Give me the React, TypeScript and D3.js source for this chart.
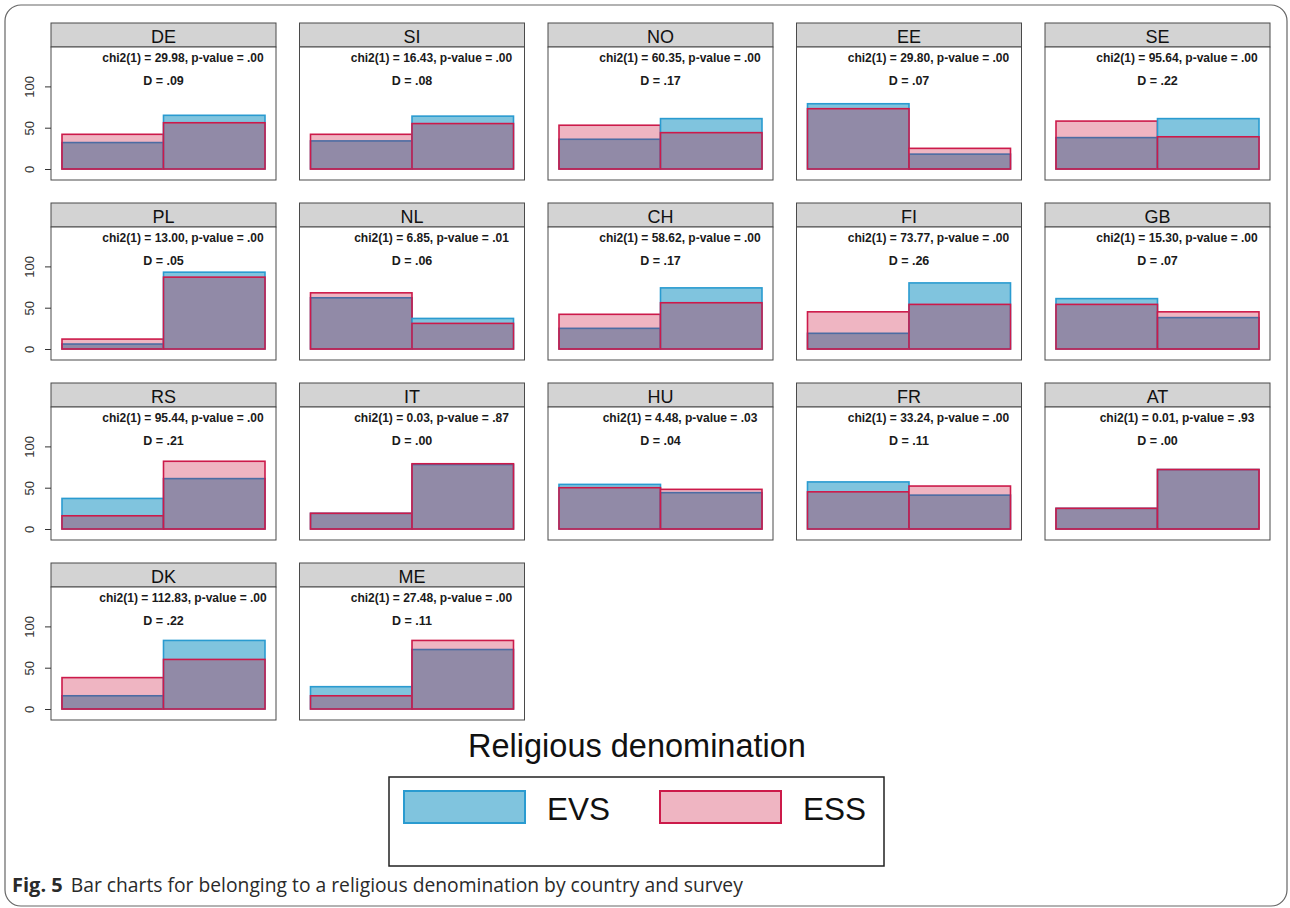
import React, { useRef, useEffect } from 'react';
import * as d3 from 'd3';

// panels, in reading order
const countries = ['DE', 'SI', 'NO', 'EE', 'SE', 'PL', 'NL', 'CH', 'FI', 'GB', 'RS', 'IT', 'HU', 'FR', 'AT', 'DK', 'ME'];
const chiSquare = ['29.98', '16.43', '60.35', '29.80', '95.64', '13.00', '6.85', '58.62', '73.77', '15.30', '95.44', '0.03', '4.48', '33.24', '0.01', '112.83', '27.48'];
const pValues = ['.00', '.00', '.00', '.00', '.00', '.00', '.01', '.00', '.00', '.00', '.00', '.87', '.03', '.00', '.93', '.00', '.00'];
const dValues = ['.09', '.08', '.17', '.07', '.22', '.05', '.06', '.17', '.26', '.07', '.21', '.00', '.04', '.11', '.00', '.22', '.11'];

// two bars per panel (no / yes), percentages
const categories = ['No', 'Yes'];
const evsNo = [32, 34, 36, 79, 38, 6, 62, 25, 19, 61, 37, 19, 54, 57, 25, 16, 27];
const evsYes = [65, 64, 61, 18, 61, 93, 37, 74, 80, 38, 61, 78, 44, 41, 72, 83, 72];
const essNo = [42, 42, 53, 73, 58, 12, 68, 42, 45, 54, 16, 19, 50, 45, 25, 38, 16];
const essYes = [56, 55, 44, 25, 39, 87, 31, 56, 54, 45, 82, 79, 48, 52, 72, 60, 83];

const yTicks = [0, 50, 100];
const surveys = ['EVS', 'ESS'];

const FONT = '"Liberation Sans", Arial, sans-serif';
const EVS_FILL = '#80c4de';
const EVS_STROKE = '#2a9bd0';
const EVS_STROKE_DARK = '#4c6ca3';
const ESS_FILL = '#efb5c2';
const ESS_STROKE = '#cc1a4a';
const BOTH_FILL = '#918aa7';

export default function App(): JSX.Element {
  const svgRef = useRef<SVGSVGElement>(null);

  useEffect(() => {
    const svgEle = svgRef.current;
    if (svgEle == null) {
      return;
    }
    const svg = d3.select(svgEle);
    svg.selectAll('*').remove();

    // outer frame
    svg
      .append('rect')
      .attr('x', 5)
      .attr('y', 5)
      .attr('width', 1282)
      .attr('height', 901)
      .attr('rx', 16)
      .attr('fill', 'none')
      .attr('stroke', '#666')
      .attr('stroke-width', 1.2);

    const panelW = 225;
    const headerH = 24;
    const plotH = 133;

    const colX = d3.scaleLinear().domain([0, 4]).range([51, 1045]);
    const rowY = d3.scaleLinear().domain([0, 3]).range([23, 563]);

    const x = d3.scaleBand().domain(categories).range([11, panelW - 11]);
    const y = d3
      .scaleLinear()
      .domain([0, 100])
      .range([plotH - 11, plotH - 11 - 82.6]);

    const panels = countries.map((c, i) => ({
      country: c,
      chi: chiSquare[i],
      p: pValues[i],
      d: dValues[i],
      col: i % 5,
      row: Math.floor(i / 5),
      bars: categories.map((cat, k) => ({
        cat,
        evs: k === 0 ? evsNo[i] : evsYes[i],
        ess: k === 0 ? essNo[i] : essYes[i]
      }))
    }));

    const g = svg
      .selectAll('g.panel')
      .data(panels)
      .join('g')
      .attr('class', 'panel')
      .attr('transform', (d) => `translate(${colX(d.col)}, ${rowY(d.row)})`);

    // header strip
    g.append('rect')
      .attr('width', panelW)
      .attr('height', headerH)
      .attr('fill', '#d3d3d3')
      .attr('stroke', '#4a4a4a')
      .attr('stroke-width', 1);
    g.append('text')
      .attr('x', panelW / 2)
      .attr('y', 19.5)
      .attr('text-anchor', 'middle')
      .style('font-family', FONT)
      .style('font-size', '18px')
      .attr('fill', '#111')
      .text((d) => d.country);

    const plot = g.append('g').attr('transform', `translate(0, ${headerH})`);
    plot
      .append('rect')
      .attr('width', panelW)
      .attr('height', plotH)
      .attr('fill', '#fff')
      .attr('stroke', '#4a4a4a')
      .attr('stroke-width', 1);

    // stats text
    plot
      .append('text')
      .attr('x', 132)
      .attr('y', 15)
      .attr('text-anchor', 'middle')
      .style('font-family', FONT)
      .style('font-size', '12px')
      .style('font-weight', 'bold')
      .attr('fill', '#1a1a1a')
      .text((d) => `chi2(1) = ${d.chi}, p-value = ${d.p}`);
    plot
      .append('text')
      .attr('x', panelW / 2)
      .attr('y', 38)
      .attr('text-anchor', 'middle')
      .style('font-family', FONT)
      .style('font-size', '12.5px')
      .style('font-weight', 'bold')
      .attr('fill', '#1a1a1a')
      .text((d) => `D = ${d.d}`);

    const bw = x.bandwidth();
    const bars = plot
      .selectAll('g.bar')
      .data((d) => d.bars)
      .join('g')
      .attr('class', 'bar');

    // fills: EVS, ESS, then the overlap
    bars
      .append('rect')
      .attr('x', (d) => x(d.cat) as number)
      .attr('y', (d) => y(d.evs))
      .attr('width', bw)
      .attr('height', (d) => y(0) - y(d.evs))
      .attr('fill', EVS_FILL);
    bars
      .append('rect')
      .attr('x', (d) => x(d.cat) as number)
      .attr('y', (d) => y(d.ess))
      .attr('width', bw)
      .attr('height', (d) => y(0) - y(d.ess))
      .attr('fill', ESS_FILL);
    bars
      .append('rect')
      .attr('x', (d) => x(d.cat) as number)
      .attr('y', (d) => y(Math.min(d.evs, d.ess)))
      .attr('width', bw)
      .attr('height', (d) => y(0) - y(Math.min(d.evs, d.ess)))
      .attr('fill', BOTH_FILL);
    // outlines
    bars
      .append('rect')
      .attr('x', (d) => x(d.cat) as number)
      .attr('y', (d) => y(d.evs))
      .attr('width', bw)
      .attr('height', (d) => y(0) - y(d.evs))
      .attr('fill', 'none')
      .attr('stroke', (d) => (d.evs > d.ess ? EVS_STROKE : EVS_STROKE_DARK))
      .attr('stroke-width', 1.6);
    bars
      .append('rect')
      .attr('x', (d) => x(d.cat) as number)
      .attr('y', (d) => y(d.ess))
      .attr('width', bw)
      .attr('height', (d) => y(0) - y(d.ess))
      .attr('fill', 'none')
      .attr('stroke', ESS_STROKE)
      .attr('stroke-width', 1.6);

    // y axis on the first column only
    plot
      .filter((d) => d.col === 0)
      .append('g')
      .call(d3.axisLeft(y).tickValues(yTicks).tickSize(6).tickSizeOuter(0))
      .call((a) => a.select('.domain').remove())
      .call((a) => a.selectAll('line').attr('stroke', '#333'))
      .call((a) =>
        a
          .selectAll('text')
          .attr('x', 0)
          .attr('dy', 0)
          .attr('text-anchor', 'middle')
          .attr('transform', 'translate(-17, 0) rotate(-90)')
          .attr('fill', '#333')
          .style('font-family', FONT)
          .style('font-size', '13px')
      );

    // legend
    svg
      .append('text')
      .attr('x', 637)
      .attr('y', 757)
      .attr('text-anchor', 'middle')
      .style('font-family', FONT)
      .style('font-size', '32.5px')
      .attr('fill', '#111')
      .text('Religious denomination');
    svg
      .append('rect')
      .attr('x', 389)
      .attr('y', 777)
      .attr('width', 495)
      .attr('height', 89)
      .attr('fill', '#fff')
      .attr('stroke', '#222')
      .attr('stroke-width', 1.5);
    const keyX = d3.scaleOrdinal<string, number>().domain(surveys).range([404, 660]);
    const keyFill = d3.scaleOrdinal<string, string>().domain(surveys).range([EVS_FILL, ESS_FILL]);
    const keyStroke = d3.scaleOrdinal<string, string>().domain(surveys).range([EVS_STROKE, ESS_STROKE]);
    const key = svg.selectAll('g.key').data(surveys).join('g').attr('class', 'key');
    key
      .append('rect')
      .attr('x', (d) => keyX(d))
      .attr('y', 791)
      .attr('width', 121)
      .attr('height', 32)
      .attr('fill', (d) => keyFill(d))
      .attr('stroke', (d) => keyStroke(d))
      .attr('stroke-width', 2);
    key
      .append('text')
      .attr('x', (d) => keyX(d) + 143)
      .attr('y', 820)
      .style('font-family', FONT)
      .style('font-size', '31.5px')
      .attr('fill', '#111')
      .text((d) => d);

    // caption
    const cap = svg
      .append('text')
      .attr('x', 12)
      .attr('y', 892)
      .style('font-family', '"Open Sans", "Noto Sans", sans-serif')
      .style('font-size', '19.3px')
      .attr('fill', '#2a2a2a');
    cap.append('tspan').style('font-weight', 'bold').style('font-size', '20px').text('Fig. 5');
    cap.append('tspan').attr('dx', 8).text('Bar charts for belonging to a religious denomination by country and survey');
  }, []);

  return <svg ref={svgRef} width={1290} height={908} style={{ position: 'absolute', left: 0, top: 0 }} />;
}
